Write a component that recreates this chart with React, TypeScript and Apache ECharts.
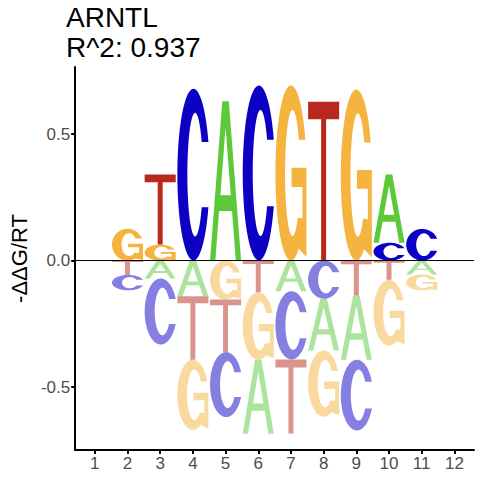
import React, { useEffect, useRef } from "react";
import * as echarts from "echarts";

// ---- data ----
const positions = [1, 2, 3, 4, 5, 6, 7, 8, 9, 10, 11, 12];
const letters = ["A", "C", "G", "T"];
const valuesA = [0, 0, -0.071, -0.141, 0.63, -0.293, -0.121, -0.205, -0.254, 0.27, -0.055, 0];
const valuesC = [0, -0.061, -0.261, 0.679, -0.257, 0.692, -0.27, -0.151, -0.28, 0.07, 0.125, 0];
const valuesG = [0, 0.126, 0.063, -0.277, -0.154, -0.267, 0.692, -0.261, 0.676, -0.26, -0.063, 0];
const valuesT = [0, -0.057, 0.277, -0.251, -0.208, -0.125, -0.293, 0.628, -0.138, -0.076, 0, 0];
const xTicks = [1, 2, 3, 4, 5, 6, 7, 8, 9, 10, 11, 12];
const yTicks = [-0.5, 0, 0.5];
const titleLines = ["ARNTL", "R^2: 0.937"];
const yAxisTitle = "-ΔΔG/RT";

const letterColors = ["#5CC93B", "#0C00C4", "#F5B33F", "#B8281D"];
const byLetter = [valuesA, valuesC, valuesG, valuesT];

// ---- glyph outlines in a 100x100 box (y down) ----
function ell(cx: number, cy: number, rx: number, ry: number, deg: number) {
  const t = (deg * Math.PI) / 180;
  return [cx + rx * Math.cos(t), cy - ry * Math.sin(t)];
}
function arcPts(cx: number, cy: number, rx: number, ry: number, d0: number, d1: number, n = 60) {
  const out: number[][] = [];
  for (let i = 0; i <= n; i++) out.push(ell(cx, cy, rx, ry, d0 + ((d1 - d0) * i) / n));
  return out;
}
function toPath(pts: number[][]) {
  return pts.map((p, i) => (i === 0 ? "M" : "L") + p[0].toFixed(2) + " " + p[1].toFixed(2)).join(" ") + " Z";
}
const tOut = (Math.asin(19 / 50) * 180) / Math.PI;
const tIn = (Math.asin(19 / 36) * 180) / Math.PI;
const glyphC = toPath([
  ...arcPts(50, 50, 50, 50, tOut, 360 - tOut),
  ...arcPts(55, 50, 24, 36, 360 - tIn, tIn),
]);
const glyphG = toPath([
  ...arcPts(50, 50, 50, 50, tOut, 300),
  [100, 98],
  [100, 47],
  [52, 47],
  [52, 58],
  [87, 58],
  [87, 76],
  ...arcPts(55, 50, 24, 36, 315, tIn),
]);
const glyphA =
  "M0 100 L39.5 0 L60.5 0 L100 100 L83 100 L70.8 69 L29.2 69 L17 100 Z " +
  "M50 16.5 L33.2 59 L66.8 59 Z";
const glyphT = "M0 0 L100 0 L100 11 L58 11 L58 100 L42 100 L42 11 L0 11 Z";
const glyphs = [glyphA, glyphC, glyphG, glyphT];

function buildRows() {
  const rows: number[][] = [];
  positions.forEach((p, i) => {
    const vals = letters.map((_, li) => ({ li, v: byLetter[li][i] }));
    const pos = vals.filter((d) => d.v > 0).sort((a, b) => a.v - b.v);
    let acc = 0;
    pos.forEach((d) => {
      rows.push([p, acc, acc + d.v, d.li, 0]);
      acc += d.v;
    });
    const neg = vals.filter((d) => d.v < 0).sort((a, b) => b.v - a.v);
    acc = 0;
    neg.forEach((d) => {
      rows.push([p, acc, acc + d.v, d.li, 1]);
      acc += d.v;
    });
  });
  return rows;
}

const X_MIN = 0.4;
const X_MAX = 12.6;
const Y_MIN = -0.749;
const Y_MAX = 0.765;
const LETTER_W = 0.95;

export default function App() {
  const ref = useRef<HTMLDivElement>(null);
  useEffect(() => {
    if (!ref.current) return;
    const chart = echarts.init(ref.current, undefined, { renderer: "svg" });
    const font = "'Liberation Sans', Arial, sans-serif";
    chart.setOption({
      animation: false,
      backgroundColor: "#ffffff",
      textStyle: { fontFamily: font },
      title: {
        text: titleLines.join("\n"),
        left: 66,
        top: 3,
        padding: 0,
        textStyle: { fontFamily: font, fontSize: 28, lineHeight: 29.4, fontWeight: "normal", color: "#000" },
      },
      grid: { left: 66, right: 6, top: 67, bottom: 30, containLabel: false },
      xAxis: {
        type: "value",
        min: X_MIN,
        max: X_MAX,
        splitLine: { show: false },
        axisLine: { show: true, onZero: false, lineStyle: { color: "#000", width: 2 } },
        axisTick: { show: true, length: 4, lineStyle: { color: "#000", width: 2 }, customValues: xTicks },
        axisLabel: {
          color: "#4D4D4D",
          fontSize: 17,
          margin: 5,
          customValues: xTicks,
          formatter: (v: number) => String(v),
        },
      },
      yAxis: {
        type: "value",
        min: Y_MIN,
        max: Y_MAX,
        name: yAxisTitle,
        nameLocation: "middle",
        nameGap: 37,
        nameRotate: 90,
        nameTextStyle: { fontSize: 22, color: "#000", fontFamily: font },
        splitLine: { show: false },
        axisLine: { show: true, onZero: false, lineStyle: { color: "#000", width: 2 } },
        axisTick: { show: true, length: 4, lineStyle: { color: "#000", width: 2 }, customValues: yTicks },
        axisLabel: {
          color: "#4D4D4D",
          fontSize: 17,
          margin: 5,
          customValues: yTicks,
          formatter: (v: number) => v.toFixed(1),
        },
      },
      series: [
        {
          type: "custom",
          data: buildRows(),
          encode: { x: 0, y: [1, 2] },
          renderItem: (params: any, api: any) => {
            const p = api.value(0);
            const y0 = api.value(1);
            const y1 = api.value(2);
            const li = api.value(3);
            const neg = api.value(4);
            const tl = api.coord([p - LETTER_W / 2, Math.max(y0, y1)]);
            const br = api.coord([p + LETTER_W / 2, Math.min(y0, y1)]);
            return {
              type: "path",
              shape: {
                pathData: glyphs[li],
                x: tl[0],
                y: tl[1],
                width: br[0] - tl[0],
                height: br[1] - tl[1],
                layout: "cover",
              },
              style: { fill: letterColors[li], opacity: neg ? 0.5 : 1 },
            };
          },
        },
        {
          type: "line",
          data: [
            [X_MIN, 0],
            [X_MAX, 0],
          ],
          showSymbol: false,
          symbol: "none",
          silent: true,
          z: 5,
          lineStyle: { color: "#000", width: 1 },
        },
      ],
    });
    return () => chart.dispose();
  }, []);
  return <div ref={ref} style={{ position: "absolute", left: 0, top: 0, width: 480, height: 480 }} />;
}
